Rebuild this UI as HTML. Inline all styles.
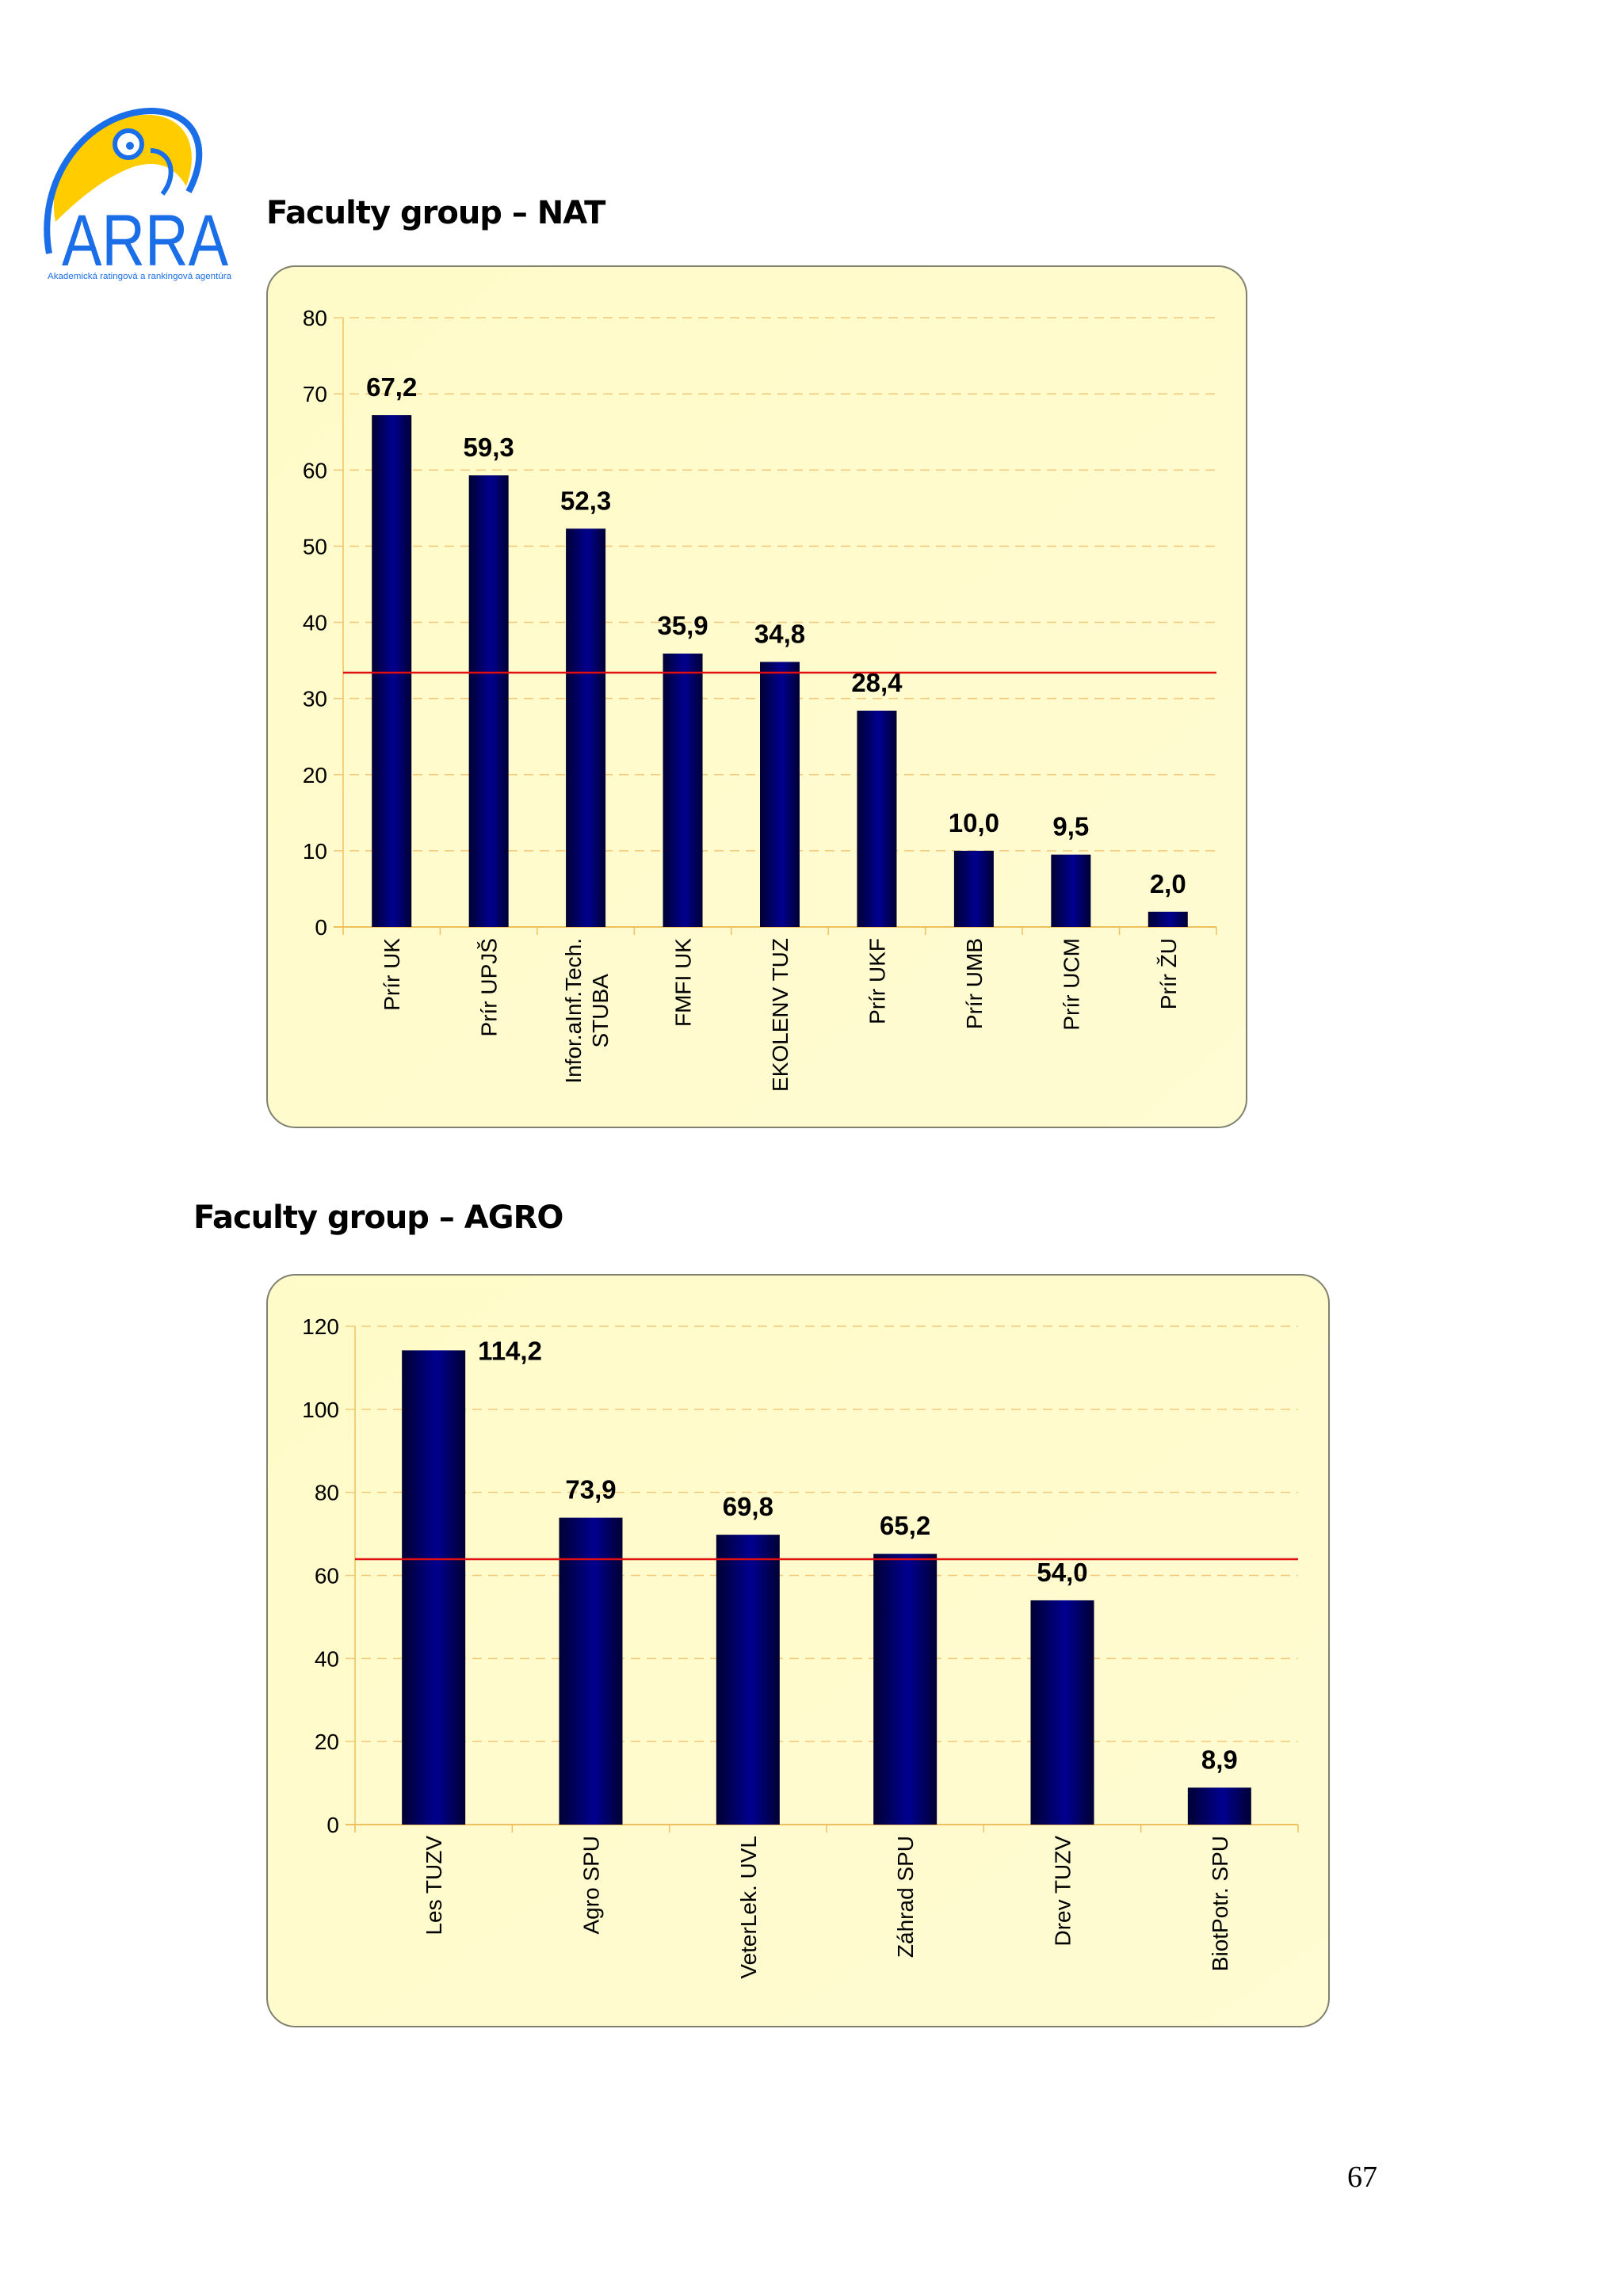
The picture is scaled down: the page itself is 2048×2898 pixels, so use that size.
<!DOCTYPE html>
<html><head><meta charset="utf-8">
<style>
html,body{margin:0;padding:0;background:#fff;}
body{width:2048px;height:2898px;position:relative;overflow:hidden;font-family:"Liberation Sans",sans-serif;}
.title{position:absolute;font-family:"DejaVu Sans","Liberation Sans",sans-serif;font-weight:bold;font-size:40px;color:#000;letter-spacing:-1px;}
</style></head>
<body>
<svg style="position:absolute;left:40px;top:130px" width="270" height="230" viewBox="0 0 270 230">
  <path d="M30 150 C15 70 80 20 140 15 C190 12 215 50 195 105 C180 80 160 72 130 80 C95 92 60 120 30 150 Z" fill="#ffcc00"/>
  <path d="M22 190 C5 95 70 12 150 10 C205 10 228 55 198 112" fill="none" stroke="#1a6ee8" stroke-width="8"/>
  <path d="M150 60 C175 60 185 90 165 115" fill="none" stroke="#1a6ee8" stroke-width="6"/>
  <circle cx="122" cy="52" r="17" fill="#fff" stroke="#1a6ee8" stroke-width="6"/>
  <circle cx="124" cy="54" r="5" fill="#1a6ee8"/>
  <text x="38" y="205" font-family="Liberation Sans, sans-serif" font-size="92" fill="#1a6ee8" textLength="210" lengthAdjust="spacingAndGlyphs">ARRA</text>
  <text x="20" y="222" font-family="Liberation Sans, sans-serif" font-size="11" fill="#1a6ee8" textLength="232" lengthAdjust="spacingAndGlyphs">Akademická ratingová a rankingová agentúra</text>
</svg>
<div class="title" style="left:336px;top:246px">Faculty group – NAT</div>
<div class="title" style="left:244px;top:1514px">Faculty group – AGRO</div>
<div style="position:absolute;left:1700px;top:2726px;font-family:'Liberation Serif',serif;font-size:38px;">67</div>

<svg id="chart1" style="position:absolute;left:0;top:0" width="2048" height="2898"></svg>

<script>
const natCategories = [["Prír UK"],["Prír UPJŠ"],["Infor.aInf.Tech.","STUBA"],["FMFI UK"],["EKOLENV TUZ"],["Prír UKF"],["Prír UMB"],["Prír UCM"],["Prír ŽU"]];
const natValues = [67.2,59.3,52.3,35.9,34.8,28.4,10.0,9.5,2.0];
const natTicks = [0,10,20,30,40,50,60,70,80];
const natAverage = 33.4;

const agroCategories = [["Les TUZV"],["Agro SPU"],["VeterLek. UVL"],["Záhrad SPU"],["Drev TUZV"],["BiotPotr. SPU"]];
const agroValues = [114.2,73.9,69.8,65.2,54.0,8.9];
const agroTicks = [0,20,40,60,80,100,120];
const agroAverage = 63.9;

const NS="http://www.w3.org/2000/svg";
const svg=document.getElementById('chart1');
function mk(tag,attrs,parent){const e=document.createElementNS(NS,tag);for(const k in attrs)e.setAttribute(k,attrs[k]);(parent||svg).appendChild(e);return e;}

const defs=mk('defs',{});
const g=mk('linearGradient',{id:'barg',x1:'0',x2:'1',y1:'0',y2:'0'},defs);
mk('stop',{offset:'0','stop-color':'#000033'},g);
mk('stop',{offset:'0.55','stop-color':'#000090'},g);
mk('stop',{offset:'1','stop-color':'#000033'},g);
const bg=mk('linearGradient',{id:'bgg',x1:'0',x2:'1',y1:'0',y2:'1'},defs);
mk('stop',{offset:'0','stop-color':'#fffbc8'},bg);
mk('stop',{offset:'1','stop-color':'#fffbd2'},bg);

function drawChart(o){
  const grp=mk('g',{});
  
  
  const box=mk('rect',{x:o.box[0],y:o.box[1],width:o.box[2]-o.box[0],height:o.box[3]-o.box[1],rx:36,ry:36,fill:'url(#bgg)',stroke:'#808070','stroke-width':2},grp);
  
  
  const max=o.ticks[o.ticks.length-1];
  const y=v=>o.y0-(v/max)*(o.y0-o.yTop);
  const n=o.cats.length;
  const cw=(o.x1-o.x0)/n;
  const xc=i=>o.x0+cw*(i+0.5);
  o.ticks.forEach(t=>{
    if(t>0){const l=mk('line',{x1:o.x0-12,x2:o.x1,y1:y(t),y2:y(t),stroke:'#f3c97a','stroke-width':1.5,'stroke-dasharray':'12,8'},grp);
      
      }
    const tx=mk('text',{x:o.x0-20,y:y(t)+10,'text-anchor':'end','font-size':28,fill:'#000','font-family':'Liberation Sans, sans-serif'},grp);
    tx.textContent=t;
    
    
  });
  const ax=mk('line',{x1:o.x0,x2:o.x0,y1:o.yTop,y2:o.y0+8,stroke:'#f0c060','stroke-width':1.5},grp);
  
  
  const bx=mk('line',{x1:o.x0-12,x2:o.x1,y1:o.y0,y2:o.y0,stroke:'#f0c060','stroke-width':2},grp);
  
  
  for(let i=0;i<=n;i++){const tk=mk('line',{x1:o.x0+cw*i,x2:o.x0+cw*i,y1:o.y0,y2:o.y0+10,stroke:'#f0c060','stroke-width':1.5},grp);
    
    }
  o.vals.forEach((v,i)=>{
    const r=mk('rect',{x:xc(i)-o.bw/2,y:y(v),width:o.bw,height:o.y0-y(v),fill:'url(#barg)'},grp);
    
    
    const lbl=mk('text',{'font-size':33,'font-weight':'bold',fill:'#000','font-family':'Liberation Sans, sans-serif'},grp);
    if(y(v)-50<o.yTop){lbl.setAttribute('x',xc(i)+o.bw/2+16);lbl.setAttribute('y',y(v)+12);}
    else{lbl.setAttribute('x',xc(i));lbl.setAttribute('y',y(v)-24);lbl.setAttribute('text-anchor','middle');}
    lbl.textContent=v.toFixed(1).replace('.',',');
    
    
    const lines=o.cats[i];
    const t=mk('text',{'font-size':28,fill:'#000','font-family':'Liberation Sans, sans-serif',transform:'translate('+xc(i)+','+(o.y0+14)+') rotate(-90)'},grp);
    
    
    if(lines.length===1){t.setAttribute('text-anchor','end');t.setAttribute('y',10);t.textContent=lines[0];}
    else{
      const s1=mk('tspan',{'text-anchor':'middle',y:-6},t);s1.textContent=lines[0];
      const s2=mk('tspan',{'text-anchor':'middle',y:28},t);s2.textContent=lines[1];
      const w=s1.getComputedTextLength();
      s1.setAttribute('x',-w/2);s2.setAttribute('x',-w/2);
    }
  });
  const av=mk('line',{x1:o.x0,x2:o.x1,y1:y(o.avg),y2:y(o.avg),stroke:'#e01010','stroke-width':2.5},grp);
  
  
}

drawChart({name:'nat-bar-chart',cats:natCategories,vals:natValues,ticks:natTicks,avg:natAverage,box:[337,336,1573,1423],x0:433,x1:1535,y0:1170,yTop:401,bw:50});
drawChart({name:'agro-bar-chart',cats:agroCategories,vals:agroValues,ticks:agroTicks,avg:agroAverage,box:[337,1609,1677,2558],x0:448,x1:1638,y0:2303,yTop:1674,bw:80});
</script>
</body></html>
